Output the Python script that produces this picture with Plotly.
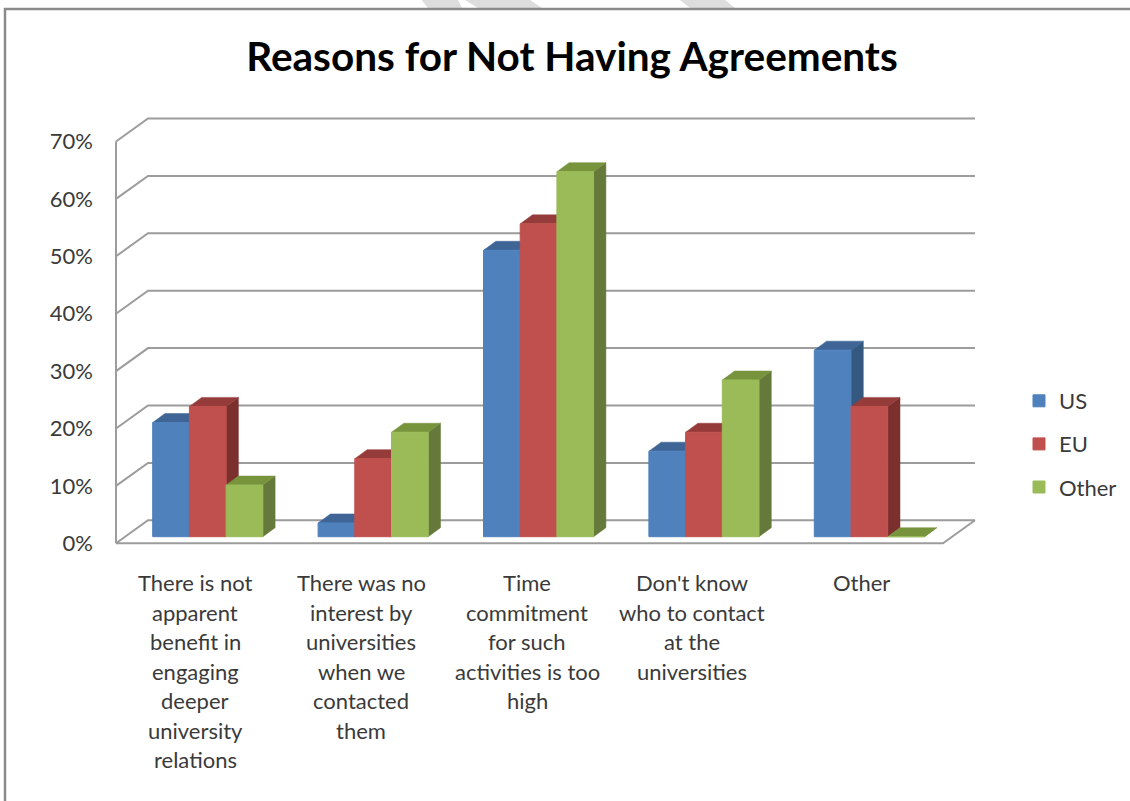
import plotly.graph_objects as go

TITLE = "Reasons for Not Having Agreements"
CATEGORIES = [
    "There is not\napparent\nbenefit in\nengaging\ndeeper\nuniversity\nrelations",
    "There was no\ninterest by\nuniversities\nwhen we\ncontacted\nthem",
    "Time\ncommitment\nfor such\nactivities is too\nhigh",
    "Don't know\nwho to contact\nat the\nuniversities",
    "Other",
]
SERIES_NAMES = ["US", "EU", "Other"]
US = [19.9, 2.4, 49.9, 14.9, 32.5]
EU = [22.7, 13.6, 54.5, 18.2, 22.7]
OTHER = [9.0, 18.2, 63.6, 27.3, 0.0]
Y_TICKS = [0, 10, 20, 30, 40, 50, 60, 70]
Y_LABELS = ["0%", "10%", "20%", "30%", "40%", "50%", "60%", "70%"]

FRONT = ["#4F81BD", "#C0504D", "#9BBB59"]
SIDE = ["#34587F", "#7B302E", "#64793A"]
TOP = ["#3E6596", "#953C3A", "#77933C"]
GRID = "#9C9C9C"
TEXT = "#3A3A3A"
FONT = "Lato"

W, H = 1130, 801
PX_CAT = 165.4      # px per category
PX_PCT = 5.74       # px per percent point
X0_PX = 116.0       # front-left of the floor
Y0_PX = 543.3       # front 0 %

x_range = [-0.5 - X0_PX / PX_CAT, -0.5 + (W - X0_PX) / PX_CAT]
y_range = [-(H - Y0_PX) / PX_PCT, Y0_PX / PX_PCT]

DEPTH_X = 32.0 / PX_CAT
DEPTH_Y = 23.0 / PX_PCT
BAR_DX = 12.3 / PX_CAT
BAR_DY = 9.0 / PX_PCT
BAR_W = 36.7 / PX_CAT
BAR_OFFSET = -46.0 / PX_CAT
BAR_BASE = 6.6 / PX_PCT
LEFT = -0.5
RIGHT = len(CATEGORIES) - 0.5

shapes = []


def line(xs, ys, color=GRID, width=2, xref="x", yref="y"):
    path = "M" + " L".join(f"{a},{b}" for a, b in zip(xs, ys))
    shapes.append(dict(type="path", path=path, xref=xref, yref=yref, layer="below",
                       line=dict(color=color, width=width)))


def poly(xs, ys, color):
    path = "M" + " L".join(f"{a},{b}" for a, b in zip(xs, ys)) + " Z"
    shapes.append(dict(type="path", path=path, xref="x", yref="y", layer="below",
                       fillcolor=color, line=dict(color=color, width=0.5)))


# page furniture: background stripes and chart frame
for xa, xb, xc, xd in [(421.7, 458, 462, 428), (465, 530, 542, 478), (680, 725, 735, 690)]:
    shapes.append(dict(
        type="path", xref="paper", yref="paper", layer="below",
        path=(f"M{xa / W},1 L{xb / W},1 L{xc / W},{1 - 8 / H} L{xd / W},{1 - 8 / H} Z"),
        fillcolor="#DDDDDD", line=dict(width=0),
    ))
line([5 / W, 5 / W, 1], [0, 1 - 9 / H, 1 - 9 / H], color="#8A8A8A", width=2.5, xref="paper", yref="paper")

# walls and floor
for t in Y_TICKS:
    line([LEFT, LEFT + DEPTH_X, RIGHT + DEPTH_X], [t, t + DEPTH_Y, t + DEPTH_Y])
line([LEFT, LEFT], [Y_TICKS[0], Y_TICKS[-1]])
line([LEFT, RIGHT, RIGHT + DEPTH_X], [0, 0, DEPTH_Y])

# depth faces of the bars
for s, values in enumerate([US, EU, OTHER]):
    for i, v in enumerate(values):
        x0 = i + BAR_OFFSET + s * BAR_W
        x1 = x0 + BAR_W
        top = BAR_BASE + v
        poly([x1, x1 + BAR_DX, x1 + BAR_DX, x1],
             [BAR_BASE, BAR_BASE + BAR_DY, top + BAR_DY, top], SIDE[s])
        poly([x0, x0 + BAR_DX, x1 + BAR_DX, x1],
             [top, top + BAR_DY, top + BAR_DY, top], TOP[s])

fig = go.Figure()
for s, (name, values) in enumerate(zip(SERIES_NAMES, [US, EU, OTHER])):
    fig.add_trace(go.Bar(
        name=name, legendgroup=name,
        x=list(range(len(CATEGORIES))), y=values,
        base=BAR_BASE, width=BAR_W, offset=BAR_OFFSET + s * BAR_W,
        marker=dict(color=FRONT[s], line=dict(color=FRONT[s], width=1)),
        hovertemplate="%{y}%<extra>" + name + "</extra>",
    ))

# category labels: one text per line, for the wide line spacing of the original
annotations = []
LABEL_X_SHIFT = [-3.7, -3, -2.5, -3, 0.7]
for i, cat in enumerate(CATEGORIES):
    for k, txt in enumerate(cat.split("\n")):
        annotations.append(dict(
            text=txt, x=i, xref="x", xshift=LABEL_X_SHIFT[i],
            y=1 - (582.5 + k * 29.55) / H, yref="paper",
            xanchor="center", yanchor="middle", showarrow=False,
            font=dict(family=FONT, size=22, color=TEXT),
        ))

fig.update_layout(
    width=W, height=H, autosize=False,
    margin=dict(l=0, r=0, t=0, b=0, pad=0),
    paper_bgcolor="white", plot_bgcolor="rgba(0,0,0,0)",
    barmode="overlay",
    title=dict(text=f"<b>{TITLE}</b>", x=572 / W, y=1 - 57 / H,
               xanchor="center", yanchor="middle",
               font=dict(family=FONT, size=40.5, color="black")),
    xaxis=dict(range=x_range, domain=[0, 1], showgrid=False, zeroline=False,
               showline=False, showticklabels=False, ticks="", fixedrange=True),
    yaxis=dict(range=y_range, domain=[0, 1], anchor="free", position=X0_PX / W,
               showgrid=False, zeroline=False, showline=False, ticks="",
               tickmode="array", tickvals=Y_TICKS, ticktext=Y_LABELS,
               ticklabelstandoff=23, fixedrange=True,
               tickfont=dict(family=FONT, size=22, color=TEXT)),
    legend=dict(x=1019 / W, y=1 - 380 / H, xanchor="left", yanchor="top",
                tracegroupgap=11.5, traceorder="grouped", bgcolor="rgba(0,0,0,0)",
                font=dict(family=FONT, size=22, color=TEXT)),
    showlegend=True,
    shapes=shapes,
    annotations=annotations,
)
fig.write_html("out.html", config={"displayModeBar": False},
               post_script="document.body.style.margin='0';document.body.style.overflow='hidden';")
